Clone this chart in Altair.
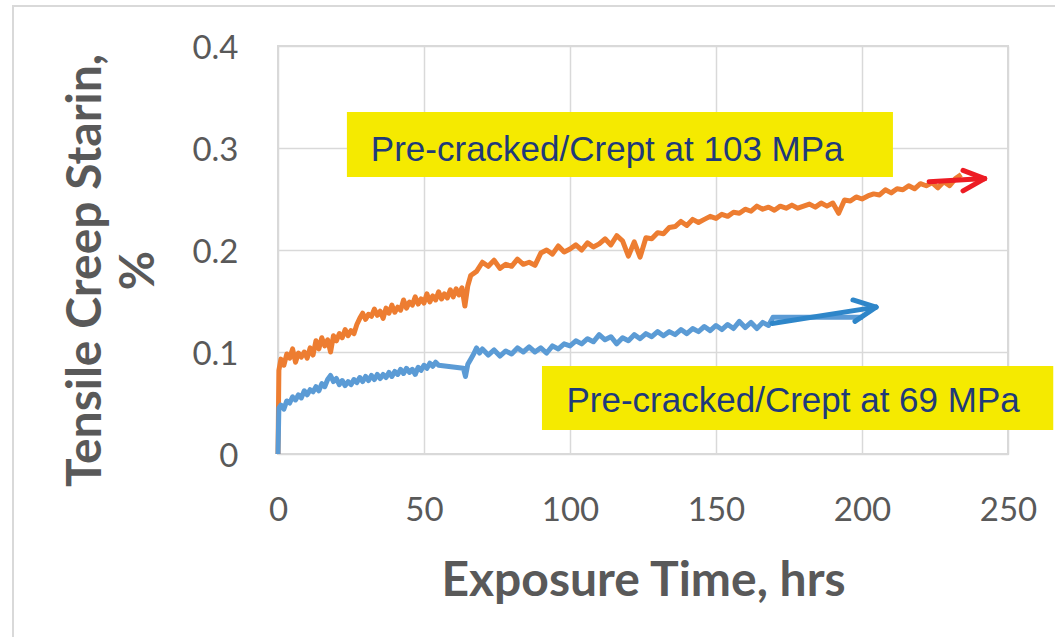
import altair as alt
import pandas as pd

# ---------------- data ----------------
# Pre-cracked / crept at 103 MPa (orange)
o_time = [0, 0.3, 1, 2, 3, 4, 5, 6, 7, 8, 9, 10, 11, 12, 13, 14, 15, 16, 17, 18, 19, 20,
          21, 22, 23, 24, 25, 26, 27, 28, 29, 30, 31, 32, 33, 34, 35, 36, 37, 38, 39, 40,
          41, 42, 43, 44, 45, 46, 47, 48, 49, 50, 51, 52, 53, 54, 55, 56, 57, 58, 59, 60,
          61, 62, 63, 64, 65, 66, 68, 70, 72, 74, 76, 78, 80, 82, 84, 86, 88, 90, 92, 94,
          96, 98, 100, 102, 104, 106, 108, 110, 112, 114, 116, 118, 120, 122, 124, 126,
          128, 130, 132, 134, 136, 138, 140, 142, 144, 146, 148, 150, 152, 154, 156, 158,
          160, 162, 164, 166, 168, 170, 172, 174, 176, 178, 180, 182, 184, 186, 188, 190,
          192, 194, 196, 198, 200, 202, 204, 206, 208, 210, 212, 214, 216, 218, 220, 222,
          224, 226, 228, 230, 232, 234]
o_strain = [0.0, 0.082, 0.093, 0.087, 0.098, 0.094, 0.103, 0.090, 0.099, 0.095, 0.100,
            0.094, 0.104, 0.097, 0.111, 0.103, 0.114, 0.106, 0.112, 0.100, 0.116, 0.111,
            0.118, 0.114, 0.122, 0.116, 0.121, 0.118, 0.127, 0.133, 0.138, 0.132, 0.137,
            0.135, 0.142, 0.136, 0.140, 0.133, 0.143, 0.138, 0.146, 0.139, 0.144, 0.141,
            0.151, 0.143, 0.149, 0.146, 0.154, 0.147, 0.152, 0.148, 0.157, 0.149, 0.155,
            0.151, 0.159, 0.152, 0.157, 0.153, 0.161, 0.154, 0.162, 0.156, 0.163, 0.145,
            0.165, 0.175, 0.179, 0.188, 0.184, 0.190, 0.182, 0.186, 0.184, 0.191, 0.186,
            0.188, 0.185, 0.197, 0.200, 0.196, 0.204, 0.198, 0.201, 0.205, 0.200, 0.207,
            0.203, 0.206, 0.211, 0.205, 0.214, 0.209, 0.194, 0.208, 0.193, 0.212, 0.211,
            0.217, 0.216, 0.222, 0.223, 0.228, 0.224, 0.230, 0.227, 0.230, 0.233, 0.231,
            0.235, 0.233, 0.237, 0.236, 0.240, 0.238, 0.243, 0.240, 0.242, 0.239, 0.243,
            0.241, 0.244, 0.241, 0.243, 0.245, 0.242, 0.246, 0.243, 0.246, 0.236, 0.249,
            0.248, 0.252, 0.250, 0.253, 0.255, 0.254, 0.259, 0.256, 0.260, 0.259, 0.263,
            0.260, 0.265, 0.263, 0.266, 0.261, 0.267, 0.263, 0.270, 0.274]

# Pre-cracked / crept at 69 MPa (blue)
b_time = [0, 0.3, 1, 2, 3, 4, 5, 6, 7, 8, 9, 10, 11, 12, 13, 14, 15, 16, 17, 18, 19, 20,
          21, 22, 23, 24, 25, 26, 27, 28, 29, 30, 31, 32, 33, 34, 35, 36, 37, 38, 39, 40,
          41, 42, 43, 44, 45, 46, 47, 48, 49, 50, 51, 52, 53, 54, 55, 63.5, 64.2, 65, 66,
          67, 68, 69, 70, 72, 74, 76, 78, 80, 82, 84, 86, 88, 90, 92, 94, 96, 98, 100,
          102, 104, 106, 108, 110, 112, 114, 116, 118, 120, 122, 124, 126, 128, 130, 132,
          134, 136, 138, 140, 142, 144, 146, 148, 150, 152, 154, 156, 158, 160, 162, 164,
          166, 168, 169.5, 200.3]
b_strain = [0.0, 0.045, 0.048, 0.044, 0.052, 0.050, 0.056, 0.053, 0.058, 0.055, 0.062,
            0.058, 0.063, 0.061, 0.066, 0.062, 0.069, 0.066, 0.073, 0.077, 0.071, 0.074,
            0.068, 0.072, 0.067, 0.071, 0.068, 0.073, 0.070, 0.075, 0.071, 0.076, 0.072,
            0.077, 0.073, 0.078, 0.074, 0.078, 0.075, 0.080, 0.076, 0.081, 0.078, 0.083,
            0.079, 0.084, 0.080, 0.083, 0.078, 0.085, 0.082, 0.087, 0.084, 0.089, 0.086,
            0.090, 0.087, 0.084, 0.076, 0.088, 0.093, 0.098, 0.104, 0.099, 0.103, 0.097,
            0.102, 0.096, 0.101, 0.098, 0.104, 0.100, 0.105, 0.100, 0.104, 0.099, 0.106,
            0.103, 0.108, 0.106, 0.111, 0.108, 0.113, 0.110, 0.117, 0.112, 0.115, 0.108,
            0.114, 0.111, 0.117, 0.113, 0.118, 0.115, 0.120, 0.116, 0.120, 0.117, 0.122,
            0.118, 0.123, 0.120, 0.125, 0.121, 0.126, 0.122, 0.127, 0.123, 0.130, 0.124,
            0.129, 0.123, 0.129, 0.126, 0.134, 0.134]

# annotation boxes (data coordinates) and labels
box_labels = ["Pre-cracked/Crept at 103 MPa", "Pre-cracked/Crept at 69 MPa"]
box_x1 = [23.6, 90.4]
box_x2 = [210.6, 265.5]
box_y1 = [0.3353, 0.0863]
box_y2 = [0.2716, 0.0235]
label_x = [31.8, 98.8]
label_y = [0.2873, 0.0412]

# arrows: shaft + two head strokes, in data coordinates
red_arrow_x = [223.0, 242.0, 234.6, 242.0, 234.6, 242.0]
red_arrow_y = [0.267, 0.270, 0.278, 0.270, 0.258, 0.270]
blue_arrow_x = [169.2, 204.8, 196.9, 204.8, 197.6, 204.8]
blue_arrow_y = [0.128, 0.144, 0.151, 0.144, 0.130, 0.144]
arrow_seg = ["shaft", "shaft", "up", "up", "down", "down"]

x_ticks = [0, 50, 100, 150, 200, 250]
y_ticks = [0, 0.1, 0.2, 0.3, 0.4]

# ---------------- tables ----------------
orange_df = pd.DataFrame({"t": o_time, "s": o_strain})
blue_df = pd.DataFrame({"t": b_time, "s": b_strain})
box_df = pd.DataFrame({"label": box_labels, "t": box_x1, "x2": box_x2,
                       "s": box_y1, "y2": box_y2, "lx": label_x, "ly": label_y})
red_df = pd.DataFrame({"t": red_arrow_x, "s": red_arrow_y, "seg": arrow_seg})
blue_arr_df = pd.DataFrame({"t": blue_arrow_x, "s": blue_arrow_y, "seg": arrow_seg})

GRAY = "#595959"
GRID = "#d9d9d9"

x_scale = alt.Scale(domain=[0, 250], nice=False)
y_scale = alt.Scale(domain=[0, 0.4], nice=False)

x_axis = alt.Axis(
    values=x_ticks, title="Exposure Time, hrs", grid=True, gridColor=GRID, gridWidth=1.5,
    domain=False, ticks=False, tickSize=0, labelFont="Lato", labelFontSize=33,
    labelColor=GRAY, labelBaseline="alphabetic", labelPadding=66, labelFlush=False,
    titleFont="Lato", titleFontSize=48, titleFontWeight="bold", titleColor=GRAY,
    titleBaseline="alphabetic", titleY=141, titleX=365, titleAlign="center",
)
y_axis = alt.Axis(
    values=y_ticks, title=["Tensile Creep Starin,", "%"], grid=True, gridColor=GRID,
    gridWidth=1.5, domain=False, ticks=False, tickSize=0, labelFont="Lato",
    labelFontSize=33, labelColor=GRAY, labelBaseline="alphabetic", labelOffset=12,
    labelPadding=40, labelFlush=False,
    labelExpr="datum.value == 0 ? '0' : format(datum.value, '.1f')",
    titleFont="Lato", titleFontSize=48, titleFontWeight="bold", titleColor=GRAY,
    titleAngle=270, titleBaseline="alphabetic", titleAlign="center",
    titleX=-178, titleY=224, titleLineHeight=53,
)

X = alt.X("t:Q", scale=x_scale, axis=x_axis)
Y = alt.Y("s:Q", scale=y_scale, axis=y_axis)

outer = alt.Chart(pd.DataFrame({"a": [0]})).mark_rect(
    fill=None, stroke=GRID, strokeWidth=2
).encode(
    x=alt.value(-265), x2=alt.value(900), y=alt.value(-40), y2=alt.value(700)
)

orange = alt.Chart(orange_df).mark_line(
    color="#ED7D31", strokeWidth=5, strokeJoin="round"
).encode(x=X, y=Y)
blue = alt.Chart(blue_df).mark_line(
    color="#5B9BD5", strokeWidth=5, strokeJoin="round"
).encode(x=X, y=Y)

boxes = alt.Chart(box_df).mark_rect(fill="#F5EA00", clip=False).encode(
    x=X, x2="x2:Q", y=Y, y2="y2:Q",
)
labels = alt.Chart(box_df).mark_text(
    font="Liberation Sans", fontSize=35, color="#1F3A7A", align="left",
    baseline="alphabetic"
).encode(
    x=alt.X("lx:Q", scale=x_scale, axis=x_axis),
    y=alt.Y("ly:Q", scale=y_scale, axis=y_axis),
    text="label:N",
)

red_arrow = alt.Chart(red_df).mark_line(
    color="#ED1C24", strokeWidth=5, strokeCap="round", clip=False
).encode(x=X, y=Y, detail="seg:N")
blue_arrow = alt.Chart(blue_arr_df).mark_line(
    color="#2E86C9", strokeWidth=5, strokeCap="round", clip=False
).encode(x=X, y=Y, detail="seg:N")

chart = alt.layer(
    orange, blue, outer, boxes, labels, red_arrow, blue_arrow
).properties(
    width=730, height=408,
    autosize=alt.AutoSizeParams(type="none"),
    padding={"left": 278, "top": 46, "right": 47, "bottom": 183},
    background="white",
).configure_view(stroke=GRID, strokeWidth=2)

chart.save("out.html", embed_options={"renderer": "svg", "actions": False})
